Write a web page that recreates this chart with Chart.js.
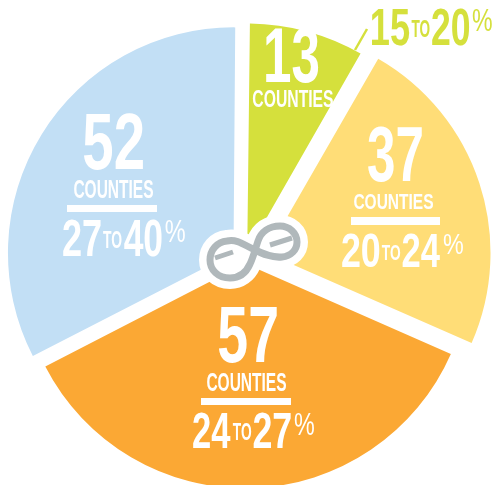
<!DOCTYPE html>
<html>
<head>
<meta charset="utf-8">
<title>Counties by range</title>
<script src="https://cdn.jsdelivr.net/npm/chart.js@4"></script>
<style>
  body { margin: 0; background: #fff; }
  canvas { display: block; }
</style>
</head>
<body>
<canvas id="myCanvas" width="492" height="485"></canvas>
<script>
// data
const countyCounts = [13, 37, 57, 52];
const rangeLow = ['15', '20', '24', '27'];
const rangeHigh = ['20', '24', '27', '40'];
const unitLabel = 'COUNTIES';

const sliceColors = ['#d5e03c', '#ffdd77', '#fba834', '#c2dff5'];
const sliceOffsets = [34, 90, 14, 54];
const WHITE = '#ffffff';
const GREY = '#b0b8bb';

// text boxes per slice: [left, right, top, bottom]
const numberBoxes = [[266, 318, 27, 82], [368, 422, 127, 181], [219, 277, 306, 362], [84, 143, 113, 169]];
const unitBoxes = [[253, 333, 90, 107], [354, 433, 193, 209], [207, 286, 373, 391], [74, 153, 180, 198]];
const ruleBoxes = [null, [351, 440, 217, 225], [201, 291, 398, 405], [67, 157, 205, 212]];
const rangeBoxes = [[372, 492, 9, 45], [342, 463, 233, 267], [193, 314, 413, 448], [63, 185, 220, 256]];

// fits the ink of the text exactly into the box
var fitText = function (ctx, text, box, color, weight) {
   ctx.font = (weight || 'bold') + ' 100px "Liberation Sans Narrow", "Liberation Sans", sans-serif';
   ctx.fillStyle = color;
   ctx.textAlign = 'left';
   ctx.textBaseline = 'alphabetic';
   const m = ctx.measureText(text);
   const w = m.actualBoundingBoxRight + m.actualBoundingBoxLeft;
   ctx.save();
   ctx.translate(box[0], box[3]);
   ctx.scale((box[1] - box[0]) / w, (box[3] - box[2]) / m.actualBoundingBoxAscent);
   ctx.fillText(text, m.actualBoundingBoxLeft, 0);
   ctx.restore();
};

// "27 TO 40 %" with small TO and raised percent sign
var drawRange = function (ctx, i, color) {
   const b = rangeBoxes[i];
   const w = b[1] - b[0];
   const h = b[3] - b[2];
   const x = (f) => b[0] + w * f;
   fitText(ctx, rangeLow[i], [x(0), x(0.31), b[2], b[3]], color);
   fitText(ctx, 'TO', [x(0.33), x(0.48), b[2] + h * 0.31, b[2] + h * 0.78], color);
   fitText(ctx, rangeHigh[i], [x(0.5), x(0.81), b[2], b[3]], color);
   fitText(ctx, '%', [x(0.84), x(1), b[2], b[2] + h * 0.62], color, 'normal');
};

var logoPath = function (ctx) {
   ctx.beginPath();
   ctx.moveTo(227, 241);
   ctx.bezierCurveTo(238, 239, 244, 245, 253, 249);
   ctx.bezierCurveTo(263, 254, 272, 258, 282, 257);
   ctx.bezierCurveTo(291, 256, 297, 250, 297, 242);
   ctx.bezierCurveTo(297, 233, 289, 226, 280, 226);
   ctx.bezierCurveTo(269, 226, 261, 232, 258, 241);
   ctx.bezierCurveTo(255, 250, 253, 258, 250, 264);
   ctx.bezierCurveTo(246, 273, 239, 278, 230, 278);
   ctx.bezierCurveTo(218, 278, 210, 270, 210, 260);
   ctx.bezierCurveTo(210, 250, 217, 242, 227, 241);
   ctx.closePath();
};

const overlayPlugin = {
   id: 'overlay',
   afterDatasetsDraw(chart) {
      const ctx = chart.ctx;
      ctx.save();

      // leader line for the green slice
      ctx.strokeStyle = sliceColors[0];
      ctx.lineWidth = 2.5;
      ctx.beginPath();
      ctx.moveTo(355, 50);
      ctx.lineTo(367, 29);
      ctx.stroke();

      // slice labels
      countyCounts.forEach((n, i) => {
         fitText(ctx, String(n), numberBoxes[i], WHITE);
         fitText(ctx, unitLabel, unitBoxes[i], WHITE);
         const r = ruleBoxes[i];
         if (r) {
            ctx.fillStyle = WHITE;
            ctx.fillRect(r[0], r[2], r[1] - r[0], r[3] - r[2]);
         }
         drawRange(ctx, i, i === 0 ? sliceColors[0] : WHITE);
      });

      // infinity logo
      ctx.lineJoin = 'round';
      logoPath(ctx);
      ctx.fillStyle = WHITE;
      ctx.fill();
      ctx.strokeStyle = WHITE;
      ctx.lineWidth = 22;
      ctx.stroke();
      logoPath(ctx);
      ctx.strokeStyle = GREY;
      ctx.lineWidth = 7;
      ctx.stroke();
      ctx.beginPath();
      ctx.moveTo(215, 258);
      ctx.lineTo(233, 252);
      ctx.moveTo(270, 245);
      ctx.lineTo(292, 238);
      ctx.lineWidth = 5;
      ctx.stroke();
      ctx.restore();
   }
};

const canvas = document.getElementById('myCanvas');
const myChart = new Chart(canvas.getContext('2d'), {
   type: 'pie',
   data: {
      labels: rangeLow.map((low, i) => low + ' to ' + rangeHigh[i] + '%'),
      datasets: [{
         data: countyCounts,
         backgroundColor: sliceColors,
         offset: sliceOffsets,
         borderWidth: 0
      }]
   },
   options: {
      responsive: false,
      animation: false,
      rotation: 0.5,
      radius: 224,
      layout: { padding: { top: 35, right: 2 } },
      plugins: {
         legend: { display: false },
         tooltip: { enabled: false }
      }
   },
   plugins: [overlayPlugin]
});
</script>
</body>
</html>
